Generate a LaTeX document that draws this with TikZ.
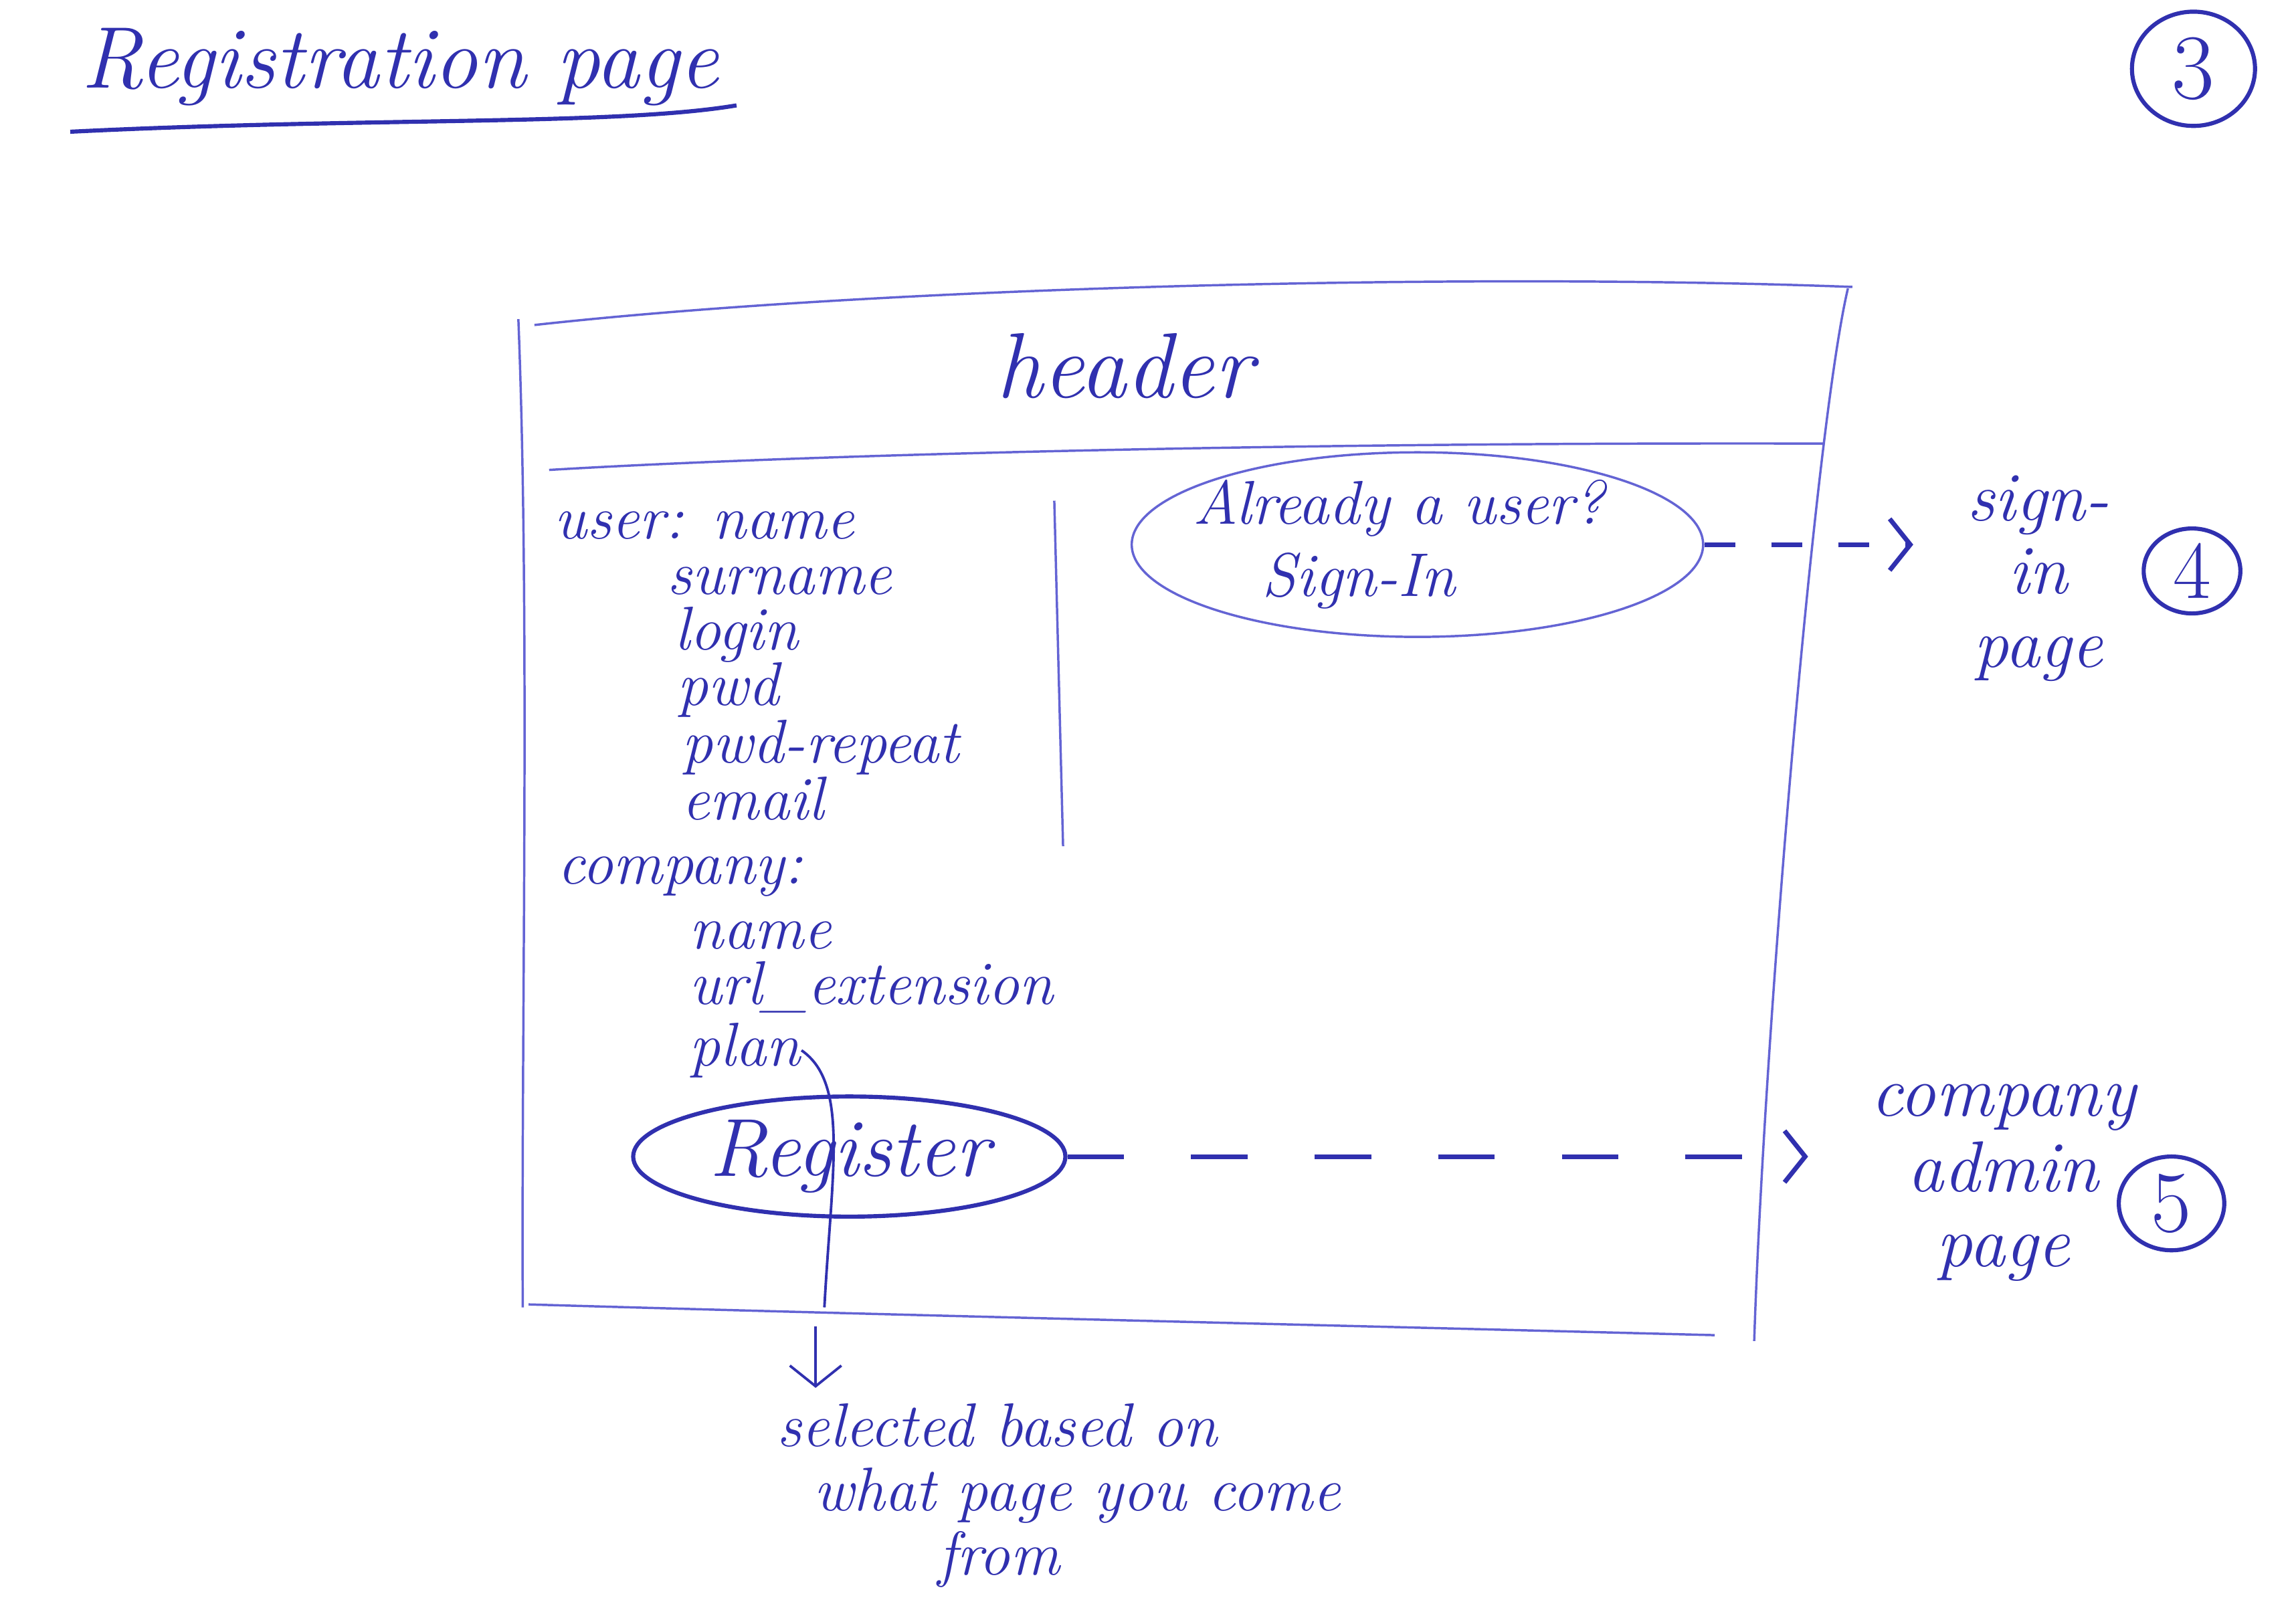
\documentclass[tikz,border=0pt]{standalone}
\usepackage{fontspec}
\usetikzlibrary{shapes.geometric,arrows.meta}
\definecolor{ink}{RGB}{48,48,175}
\definecolor{lightink}{RGB}{100,100,212}
\tikzset{
  hand/.style={text=ink, inner sep=0pt, font=\fontsize{12}{13}\selectfont\itshape},
  bigtext/.style={text=ink, inner sep=0pt, font=\fontsize{17}{18}\selectfont\itshape},
  midtext/.style={text=ink, inner sep=0pt, align=center, font=\fontsize{13.5}{14.2}\selectfont\itshape},
  boxline/.style={draw=lightink, line width=0.45pt},
  inkline/.style={draw=ink, line width=0.8pt},
  thinink/.style={draw=ink, line width=0.5pt},
  numcirc/.style={ellipse, draw=ink, line width=0.8pt, text=ink, inner sep=0pt, font=\fontsize{18}{18}\selectfont},
  barb/.style={-{Straight Barb[length=4pt,width=10pt]}},
  dasharrow/.style={draw=ink, line width=0.9pt, dash pattern=on 11pt off 13pt, barb},
  smalldash/.style={draw=ink, line width=0.9pt, dash pattern=on 6pt off 7pt, barb},
}
\begin{document}
\begin{tikzpicture}[x=0.01cm,y=-0.01cm]
\fill[white] (0,0) rectangle (1568,1101);
\useasboundingbox (0,0) rectangle (1568,1101);

% title and page number
\node[bigtext, anchor=base west] (title) at (55,60) {Registration page};
\draw[inkline] (48,90) .. controls (250,80) and (420,86) .. (503,72);
\node[numcirc, minimum width=0.84cm, minimum height=0.78cm] (n3) at (1498,47) {3};

% page frame
\draw[boxline] (365,222) .. controls (600,196) and (1000,186) .. (1265,196);
\draw[boxline] (354,218) .. controls (362,420) and (356,700) .. (357,893);
\draw[boxline] (361,891) .. controls (600,898) and (900,905) .. (1171,912);
\draw[boxline] (1262,197) .. controls (1240,290) and (1205,700) .. (1198,916);
\draw[boxline] (375,321) .. controls (560,310) and (900,302) .. (1245,303);
\node[bigtext, font=\fontsize{18}{18}\selectfont\itshape] (header) at (768,250) {header};
\draw[boxline] (720,342) -- (726,578);

% form fields
\node[hand, anchor=base west] (u0) at (378,368) {user: name};
\node[hand, anchor=base west] (u1) at (455,406) {surname};
\node[hand, anchor=base west] (u2) at (460,444) {login};
\node[hand, anchor=base west] (u3) at (462,482) {pwd};
\node[hand, anchor=base west] (u4) at (465,521) {pwd-repeat};
\node[hand, anchor=base west] (u5) at (465,560) {email};
\node[hand, anchor=base west] (c0) at (380,604) {company:};
\node[hand, anchor=base west] (c1) at (470,648) {name};
\node[hand, anchor=base west] (c2) at (470,686) {url\_extension};
\node[hand, anchor=base west] (plan) at (470,728) {plan};

% sign-in
\node[ellipse, boxline, text=ink, align=center, inner xsep=-0.3cm, inner ysep=-0.15cm,
      minimum width=3.9cm, minimum height=1.26cm,
      font=\fontsize{12}{14}\selectfont\itshape] (already) at (968,372) {Already a user?\hspace*{0.25cm}\\Sign-In\hspace*{0.8cm}};
\node[midtext] (signin) at (1392,395) {sign-\\in\\page};
\node[numcirc, minimum width=0.66cm, minimum height=0.58cm, font=\fontsize{16}{16}\selectfont] (n4) at (1497,390) {4};
\draw[smalldash, shorten >=0.36cm] (already.east) -- (already.east -| signin.west);

% register
\node[ellipse, draw=ink, line width=0.8pt, text=ink, inner sep=0pt,
      minimum width=2.95cm, minimum height=0.82cm,
      font=\fontsize{16}{16}\selectfont\itshape] (reg) at (580,790) {Register};
\node[midtext, font=\fontsize{14}{14.6}\selectfont\itshape] (cadmin) at (1368,808) {company\\admin\\page};
\node[numcirc, minimum width=0.72cm, minimum height=0.64cm, font=\fontsize{17}{17}\selectfont] (n5) at (1483,822) {5};
\draw[dasharrow, shorten >=0.42cm] (reg.east) -- (reg.east -| cadmin.west);

% selection note
\node[hand, align=left, anchor=north west, font=\fontsize{12}{12.5}\selectfont\itshape] (sel) at (530,958) {selected based on\\\hspace*{0.25cm}what page you come\\\hspace*{1.1cm}from};
\coordinate (brk) at (563,893);
\coordinate (brk2) at (557,906);
\draw[thinink] (plan.east) .. controls (580,740) and (568,800) .. (brk);
\draw[thinink, barb, shorten >=0.1cm] (brk2) -- (brk2 |- sel.north);
\end{tikzpicture}
\end{document}
